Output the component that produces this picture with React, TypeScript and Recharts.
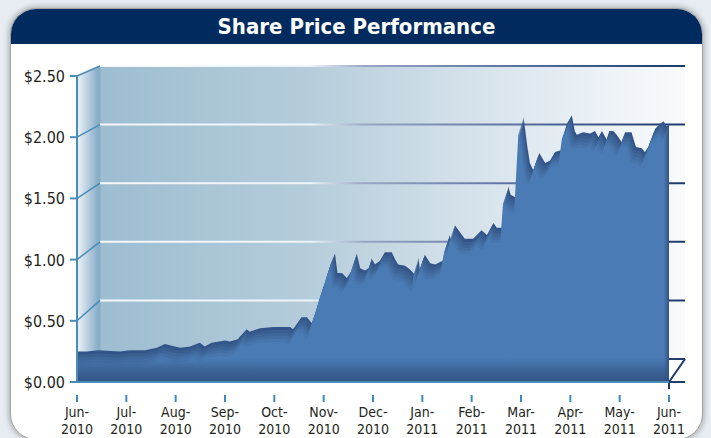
import React from 'react';
import { ComposedChart, Area, XAxis, YAxis, CartesianGrid, ReferenceLine, ReferenceArea } from 'recharts';

// month ticks, evenly spaced (0 = Jun-2010 ... 12 = Jun-2011)
const monthLabels = [
  'Jun-2010', 'Jul-2010', 'Aug-2010', 'Sep-2010', 'Oct-2010', 'Nov-2010', 'Dec-2010',
  'Jan-2011', 'Feb-2011', 'Mar-2011', 'Apr-2011', 'May-2011', 'Jun-2011',
];
const monthTicks = [0, 1, 2, 3, 4, 5, 6, 7, 8, 9, 10, 11, 12];
const priceTicks = [0, 0.5, 1, 1.5, 2, 2.5];

// position of each price point, in months since Jun-2010
const monthPos = [
  0.0, 0.2, 0.43, 0.87, 1.07, 1.38, 1.62, 1.78, 2.09, 2.29, 2.49, 2.59, 2.73, 3.0, 3.1, 3.26, 3.3, 3.44, 3.5,
  3.71, 3.98, 4.32, 4.38, 4.55, 4.66, 4.76, 4.89, 5.03, 5.09, 5.14, 5.23, 5.28, 5.37, 5.47, 5.6, 5.67, 5.74,
  5.84, 5.94, 5.97, 6.04, 6.14, 6.24, 6.38, 6.45, 6.51, 6.65, 6.75, 6.89, 6.92, 6.95, 7.05, 7.16, 7.26, 7.36,
  7.46, 7.55, 7.59, 7.66, 7.86, 8.03, 8.2, 8.31, 8.44, 8.51, 8.68, 8.74, 8.79, 8.93, 8.96, 9.05, 9.13, 9.18,
  9.25, 9.37, 9.49, 9.59, 9.69, 9.86, 9.93, 10.03, 10.09, 10.13, 10.26, 10.4, 10.5, 10.57, 10.64, 10.74, 10.79,
  10.87, 10.94, 11.04, 11.11, 11.24, 11.33, 11.45, 11.51, 11.58, 11.72, 11.82, 11.89, 11.95, 12.0,
];
// share price, $
const prices = [
  0.25, 0.25, 0.26, 0.25, 0.26, 0.26, 0.28, 0.31, 0.28, 0.29, 0.32, 0.29, 0.32, 0.34, 0.33, 0.35, 0.37, 0.43, 0.41,
  0.44, 0.45, 0.45, 0.43, 0.53, 0.53, 0.48, 0.63, 0.82, 0.87, 0.96, 1.05, 0.89, 0.89, 0.85, 0.93, 1.05, 0.93,
  0.91, 0.94, 1.01, 0.96, 0.99, 1.06, 1.06, 1.0, 0.96, 0.95, 0.92, 0.86, 1.02, 0.92, 1.04, 0.97, 0.96, 0.98,
  1.0, 1.2, 1.15, 1.28, 1.17, 1.17, 1.24, 1.2, 1.3, 1.26, 1.26, 1.6, 1.53, 1.5, 1.49, 2.17, 1.92, 1.79,
  1.73, 1.87, 1.79, 1.81, 1.88, 1.9, 2.11, 2.18, 2.05, 2.02, 2.04, 2.03, 2.05, 2.0, 2.05, 1.98, 2.05,
  2.05, 2.02, 1.96, 2.04, 2.04, 1.92, 1.91, 1.88, 1.92, 2.07, 2.11, 2.13, 2.09, 2.11,
];

const data = monthPos.map((m, i) => ({ m, price: prices[i] }));

// layout of the fake 3d box
const W = 711;
const H = 438;
const PLOT_LEFT = 77;
const PLOT_RIGHT = 669;
const PLOT_TOP = 66; // top of back wall
const FRONT_TOP = 76; // $2.50 on the front plane
const BASE = 382;
const BACK_LEFT = 100;
const BACK_RIGHT = 685;
const BACK_BASE = 359;
const TOP_PRICE = 2.5;
const MONTHS = 12;

const frontMax = (TOP_PRICE * (BASE - PLOT_TOP)) / (BASE - FRONT_TOP);
const backMin = (-TOP_PRICE * (BASE - BACK_BASE)) / (BACK_BASE - PLOT_TOP);
const pxPerPrice = (BASE - FRONT_TOP) / TOP_PRICE;
const pxPerMonth = (PLOT_RIGHT - PLOT_LEFT) / MONTHS;

// the soft inner shading of the area is faked by stacking copies of the
// series, each drawn on axes nudged a few pixels down/left and a bit lighter
const shadeLayers = [
  { id: 's1', dx: 1, dy: 3, color: '#395e8f' },
  { id: 's2', dx: 2, dy: 6, color: '#3e6699' },
  { id: 's3', dx: 3, dy: 9, color: '#436ea4' },
  { id: 's4', dx: 4, dy: 12, color: '#4775ad' },
  { id: 's5', dx: 5, dy: 15, color: '#4a7bb4' },
];

const AXIS_BLUE = '#4a8cb8';
const NAVY = '#1d3a68';
const FONT = "'DejaVu Sans Condensed', 'Liberation Sans Narrow', 'Roboto', sans-serif";

const PriceTick = (props: any) => {
  const { y, payload } = props;
  const v = payload.value as number;
  const backY = BACK_BASE - (v / TOP_PRICE) * (BACK_BASE - PLOT_TOP);
  return (
    <g>
      <line x1={PLOT_LEFT - 7} x2={PLOT_LEFT} y1={y} y2={y} stroke={AXIS_BLUE} strokeWidth={2} />
      {v > 0 && <line x1={PLOT_LEFT} y1={y} x2={BACK_LEFT} y2={backY} stroke={AXIS_BLUE} strokeWidth={1.5} />}
      <text x={PLOT_LEFT - 12} y={y} dy={6} textAnchor="end" fontFamily={FONT} fontSize={16} fill="#231f20">
        {'$' + v.toFixed(2)}
      </text>
    </g>
  );
};

const MonthTick = (props: any) => {
  const { x, payload } = props;
  const [mon, yr] = monthLabels[payload.value].split('-');
  return (
    <g>
      <line x1={x} x2={x} y1={BASE + 13} y2={BASE + 20} stroke="#3a8cc0" strokeWidth={2} />
      <text x={x} y={BASE + 35} textAnchor="middle" fontFamily={FONT} fontSize={14} fill="#231f20">
        <tspan x={x}>{mon + '-'}</tspan>
        <tspan x={x} dy={17}>
          {yr}
        </tspan>
      </text>
    </g>
  );
};

// back wall gridlines, drawn from the back (hidden) axis
const BackLine = (props: any) => {
  const { y1, x2, index } = props;
  return (
    <g key={'bl' + index}>
      <line x1={BACK_LEFT} x2={BACK_RIGHT} y1={y1} y2={y1} stroke="url(#gridGrad)" strokeWidth={2} />
      {index === 0 && (
        <>
          <line x1={x2} y1={BASE} x2={BACK_RIGHT} y2={y1} stroke={NAVY} strokeWidth={2} />
          <line x1={x2} y1={BASE} x2={x2} y2={BASE + 7} stroke={NAVY} strokeWidth={2} />
        </>
      )}
    </g>
  );
};

const App: React.FC = () => {
  return (
    <div style={{ position: 'absolute', left: 0, top: 0, width: W, height: H, overflow: 'hidden', background: '#e6ecf1' }}>
      {/* panel */}
      <div
        style={{
          position: 'absolute',
          left: 10,
          top: 8,
          width: 691,
          height: 430,
          borderRadius: 26,
          background: '#fff',
          border: '1px solid #a3a3a3',
          boxShadow: '0 0 5px 2px rgba(0,0,0,0.22)',
          overflow: 'hidden',
        }}
      >
        <div
          style={{
            height: 35,
            background: '#012b5e',
            color: '#fff',
            textAlign: 'center',
            fontFamily: FONT,
            fontWeight: 'bold',
            fontSize: 22,
            lineHeight: '35px',
          }}
        >
          Share Price Performance
        </div>
      </div>

      {/* walls of the 3d box */}
      <svg width={W} height={H} style={{ position: 'absolute', left: 0, top: 0 }}>
        <defs>
          <linearGradient id="wallGrad" x1="0" y1="0" x2="1" y2="0">
            <stop offset="0%" stopColor="#9dbdd1" />
            <stop offset="35%" stopColor="#b4ccda" />
            <stop offset="62%" stopColor="#d4e1ea" />
            <stop offset="85%" stopColor="#ebf1f6" />
            <stop offset="100%" stopColor="#f9fbfd" />
          </linearGradient>
          <linearGradient id="sideGrad" x1="0" y1="0" x2="1" y2="0">
            <stop offset="0%" stopColor="#eef3f7" />
            <stop offset="100%" stopColor="#7ea7c3" />
          </linearGradient>
          <linearGradient id="gridGrad" gradientUnits="userSpaceOnUse" x1={BACK_LEFT} y1={0} x2={BACK_RIGHT} y2={0}>
            <stop offset="0%" stopColor="#ffffff" stopOpacity={0.9} />
            <stop offset="36%" stopColor="#eef3f7" />
            <stop offset="45%" stopColor="#9aa7c4" />
            <stop offset="75%" stopColor="#52699a" />
            <stop offset="100%" stopColor={NAVY} />
          </linearGradient>
          <linearGradient id="bottomShade" x1="0" y1="0" x2="0" y2="1">
            <stop offset="0%" stopColor="#34568a" stopOpacity={0} />
            <stop offset="45%" stopColor="#34568a" stopOpacity={0.6} />
            <stop offset="100%" stopColor="#2f4f7c" stopOpacity={0.9} />
          </linearGradient>
        </defs>
        <rect x={BACK_LEFT} y={PLOT_TOP} width={BACK_RIGHT - BACK_LEFT} height={BACK_BASE - PLOT_TOP} fill="url(#wallGrad)" />
        <polygon
          points={`${PLOT_LEFT},${FRONT_TOP} ${BACK_LEFT},${PLOT_TOP} ${BACK_LEFT},${BACK_BASE} ${PLOT_LEFT},${BASE}`}
          fill="url(#sideGrad)"
        />
        <line x1={BACK_LEFT} x2={BACK_LEFT} y1={PLOT_TOP} y2={BACK_BASE} stroke="#8db2c9" strokeWidth={1.5} />
      </svg>

      <div style={{ position: 'absolute', left: 0, top: 0 }}>
        <ComposedChart width={W} height={H} data={data} margin={{ top: PLOT_TOP, right: W - PLOT_RIGHT, bottom: 0, left: 0 }}>
          <CartesianGrid yAxisId="back" vertical={false} horizontal={BackLine} />
          <XAxis
            dataKey="m"
            type="number"
            domain={[0, MONTHS]}
            ticks={monthTicks}
            allowDataOverflow
            height={H - BASE}
            axisLine={{ stroke: AXIS_BLUE, strokeWidth: 2 }}
            tickLine={false}
            interval={0}
            tick={<MonthTick />}
          />
          <YAxis
            yAxisId="front"
            type="number"
            domain={[0, frontMax]}
            ticks={priceTicks}
            allowDataOverflow
            width={PLOT_LEFT}
            axisLine={false}
            tickLine={false}
            interval={0}
            tick={<PriceTick />}
          />
          <YAxis yAxisId="back" type="number" domain={[backMin, TOP_PRICE]} ticks={priceTicks} allowDataOverflow hide />
          {shadeLayers.map((l) => (
            <XAxis
              key={'x' + l.id}
              xAxisId={l.id}
              dataKey="m"
              type="number"
              domain={[l.dx / pxPerMonth, MONTHS + l.dx / pxPerMonth]}
              allowDataOverflow
              hide
            />
          ))}
          {shadeLayers.map((l) => (
            <YAxis
              key={'y' + l.id}
              yAxisId={l.id}
              type="number"
              domain={[l.dy / pxPerPrice, frontMax + l.dy / pxPerPrice]}
              allowDataOverflow
              hide
            />
          ))}
          <Area
            yAxisId="front"
            type="linear"
            dataKey="price"
            baseValue={0}
            fill="#34558a"
            fillOpacity={1}
            stroke="none"
            isAnimationActive={false}
          />
          {shadeLayers.map((l) => (
            <Area
              key={l.id}
              xAxisId={l.id}
              yAxisId={l.id}
              type="linear"
              dataKey="price"
              baseValue={0}
              fill={l.color}
              fillOpacity={1}
              stroke="none"
              isAnimationActive={false}
            />
          ))}
          <ReferenceArea yAxisId="front" x1={0} x2={MONTHS} y1={0} y2={0.19} fill="url(#bottomShade)" fillOpacity={1} stroke="none" />
          <ReferenceLine
            yAxisId="front"
            segment={[{ x: 0, y: 0 }, { x: 0, y: TOP_PRICE }]}
            stroke={AXIS_BLUE}
            strokeWidth={2}
          />
        </ComposedChart>
      </div>
    </div>
  );
};

export default App;
